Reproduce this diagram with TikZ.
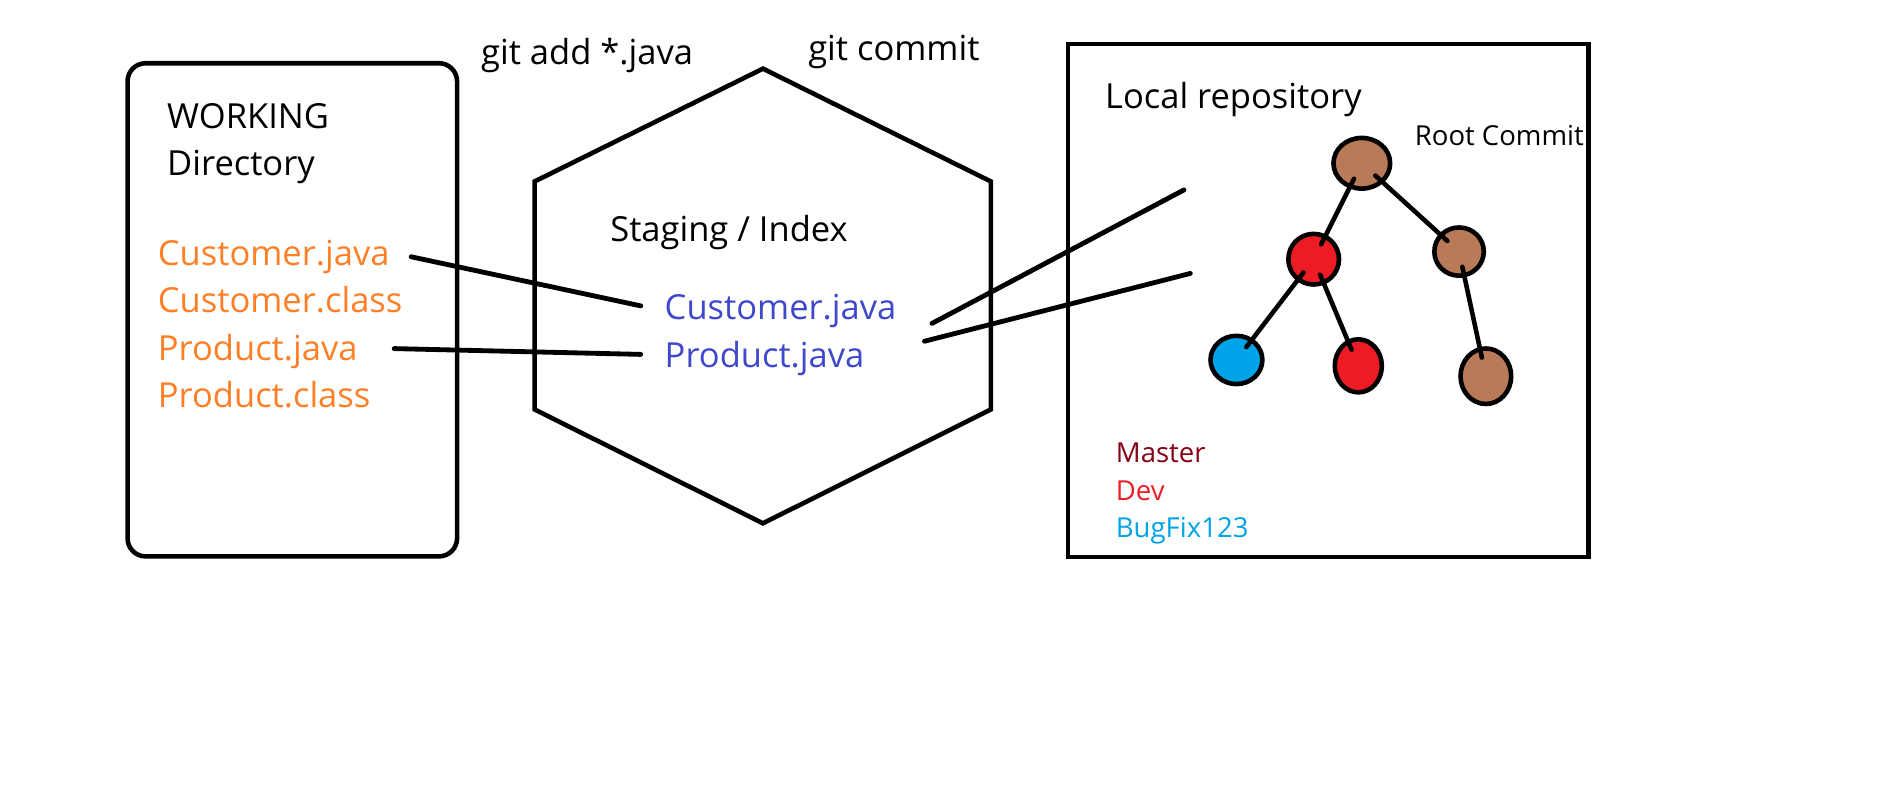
\documentclass[tikz,border=0pt]{standalone}
\usepackage{fontspec}
\setmainfont{Open Sans}
\usetikzlibrary{shapes.geometric}
\definecolor{orangeT}{HTML}{FF7F27}
\definecolor{blueT}{HTML}{3F48CC}
\definecolor{masterC}{HTML}{880015}
\definecolor{devC}{HTML}{ED1C24}
\definecolor{bugC}{HTML}{00A2E8}
\definecolor{brownC}{HTML}{B97A57}
\begin{document}
\begin{tikzpicture}[x=1pt,y=-1pt,line width=3.8pt,line cap=round,line join=miter,
  lbl/.style={anchor=base west,inner sep=0pt,font=\fontsize{28.6}{34}\selectfont},
  small/.style={anchor=base west,inner sep=0pt,font=\fontsize{22.8}{27}\selectfont},
  commit/.style={ellipse,draw,line width=3.8pt,inner sep=0pt},
  link/.style={line width=4pt}]
\useasboundingbox (0,0) rectangle (1568,660.5);
% working directory
\draw[rounded corners=15pt] (105.7,52.4) rectangle (378.8,461.1);
\node[lbl] (wk) at (136.7,106.5) {WORKING};
\node[lbl] (wd) at (136.7,145.3) {Directory};
\node[lbl,text=orangeT] (oc1) at (129,219.8) {Customer.java};
\node[lbl,text=orangeT] (oc2) at (129,259.2) {Customer.class};
\node[lbl,text=orangeT] (op1) at (129,298.8) {Product.java};
\node[lbl,text=orangeT] (op2) at (129,337.9) {Product.class};
% staging hexagon
\draw (632.3,56.9) -- (821.2,150.4) -- (821.2,339.3) -- (632.3,433.7) -- (443,339.3) -- (443,150.4) -- cycle;
\node[lbl] (ga) at (396.9,53.2) {git add *.java};
\node[lbl] (gc) at (668,50.4) {git commit};
\node[lbl] (st) at (503.9,200) {Staging / Index};
\node[lbl,text=blueT] (bc) at (549,265.1) {Customer.java};
\node[lbl,text=blueT] (bp) at (549,304.8) {Product.java};
% local repository
\draw (885,36.4) rectangle (1316.6,461.5);
\node[lbl] (lr) at (914,90.3) {Local repository};
\node[small] (rc) at (1170.7,120.4) {Root Commit};
\node[small,text=masterC] (ms) at (922.9,383.5) {Master};
\node[small,text=devC] (dv) at (922.9,414.5) {Dev};
\node[small,text=bugC] (bf) at (922.9,445.2) {BugFix123};
% commits
\node[commit,fill=brownC,minimum width=47pt,minimum height=42pt] (root) at (1128.6,135.3) {};
\node[commit,fill=devC,minimum width=42pt,minimum height=42pt] (d1) at (1088.7,214.8) {};
\node[commit,fill=brownC,minimum width=41pt,minimum height=40pt] (m1) at (1209.2,208.5) {};
\node[commit,fill=bugC,minimum width=43pt,minimum height=40pt] (b1) at (1024.7,298.3) {};
\node[commit,fill=devC,minimum width=39pt,minimum height=44pt] (d2) at (1125.7,303.2) {};
\node[commit,fill=brownC,minimum width=42pt,minimum height=46pt] (m2) at (1231.4,311.8) {};
\draw[shorten <=-9pt,shorten >=-9pt] (root) -- (d1);
\draw[shorten <=-9pt,shorten >=-9pt] (root) -- (m1);
\draw[shorten <=-9pt,shorten >=-9pt] (d1) -- (b1);
\draw[shorten <=-9pt,shorten >=-9pt] (d1) -- (d2);
\draw[shorten <=-9pt,shorten >=-9pt] (m1) -- (m2);
% connectors
\coordinate (r1) at (981.2,157.4);
\coordinate (r2) at (986.5,226.6);
\draw[link] ([xshift=16pt,yshift=7pt]oc1.base east) -- ([xshift=-18pt,yshift=11.6pt]bc.base west);
\draw[link] ([xshift=28.5pt,yshift=9.9pt]op1.base east) -- ([xshift=-18pt,yshift=11.1pt]bp.base west);
\draw[link] ([xshift=27.7pt,yshift=-2.9pt]bc.base east) -- (r1);
\draw[link] ([xshift=48pt,yshift=22pt]bp.base east) -- (r2);
\end{tikzpicture}
\end{document}
